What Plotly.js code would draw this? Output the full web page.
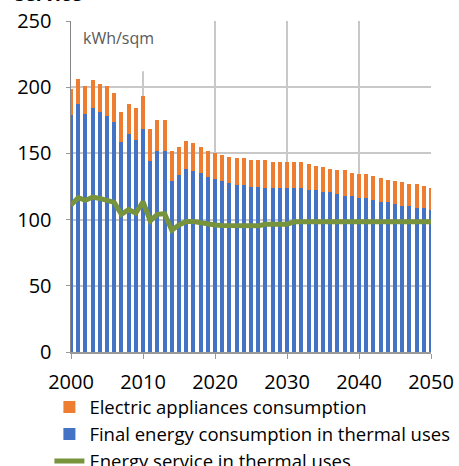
<!DOCTYPE html>
<html>
<head>
<meta charset="utf-8">
<script src="https://cdn.plot.ly/plotly-3.0.1.min.js"></script>
<style>html,body{margin:0;padding:0;background:#fff;}#chart{width:459px;height:466px;}</style>
</head>
<body>
<div id="chart"></div>
<script>
const years = [];
for (let y = 2000; y <= 2050; y++) years.push(y);

const thermalFinal = [179,187,179.5,184,181,178,173.5,158.5,164.5,160,
  168.5,144.5,152,152,129.5,133.5,138,136.5,135,132,
  131,129.5,128,126.5,126.5,125,125,123.5,123.5,123.5,
  123.5,123.5,123.5,122,122,120.5,120.5,119,117.5,117.5,
  116,116,114.5,113,113,111.5,110,110,108.5,108.5,107];

const appliances = [20,19.5,21.5,21.5,21.5,23,22.5,22.5,23,24,
  25,24,23,23,22.5,21.5,21.5,21.5,20,20,
  19.5,19.5,19.5,20,20,20,20,21.5,20,20,
  20,20,20,20,18.5,19.5,18,18.5,20,18,
  18.5,18.5,18.5,18.5,17,18,18.5,17,18.5,17,17];

const energyService = [111,116.5,114.5,117,116,114.5,113,104,107.5,105,
  113.5,99,104,104.5,92,96,98.5,98.5,97.5,96.5,
  96,95.5,95.3,95.3,95.3,95.3,95.3,96.5,96.5,96.5,
  96.5,98.3,98.3,98.3,98.3,98.3,98.3,98.3,98.3,98.3,
  98.3,98.3,98.3,98.3,98.3,98.3,98.3,98.3,98.3,98.3,98.3];

const names = ['Final energy consumption in thermal uses','Electric appliances consumption','Energy service in thermal uses'];
const FONT = 'Open Sans, DejaVu Sans, sans-serif';

const traces = [
  {type:'bar', x:years, y:thermalFinal, name:names[0], marker:{color:'#4472C4'}, width:0.55, legendrank:2},
  {type:'bar', x:years, y:appliances, name:names[1], marker:{color:'#ED7D31'}, width:0.55, legendrank:1},
  {type:'scatter', mode:'lines', x:years, y:energyService, name:names[2], line:{color:'#77933C', width:5}, legendrank:3}
];

const layout = {
  width:459, height:466,
  margin:{l:71, r:28, t:21, b:114, autoexpand:false},
  paper_bgcolor:'#fff', plot_bgcolor:'#fff',
  barmode:'stack',
  showlegend:true,
  font:{family:FONT, color:'#000', size:18.5},
  xaxis:{range:[2000,2050], tickvals:[2000,2010,2020,2030,2040,2050], ticks:'outside', ticklen:5, tickcolor:'#999',
    showgrid:true, gridcolor:'#c8c8c8', gridwidth:2, showline:true, linecolor:'#999', linewidth:1.5,
    tickfont:{size:20, family:FONT, color:'#000'}, ticklabelstandoff:6, zeroline:false, fixedrange:true, automargin:false},
  yaxis:{range:[0,250], tickvals:[0,50,100,150,200,250], ticks:'outside', ticklen:4, tickcolor:'#999',
    showgrid:true, gridcolor:'#c8c8c8', gridwidth:2, showline:true, linecolor:'#888', linewidth:1.5,
    tickfont:{size:20, family:FONT, color:'#000'}, ticklabelstandoff:10, zeroline:false, fixedrange:true, automargin:false},
  legend:{orientation:'v', x:-0.06, xanchor:'left', y:-0.11, yanchor:'top', traceorder:'normal',
    font:{size:18.5, family:FONT, color:'#000'}, itemwidth:30, tracegroupgap:0, bgcolor:'rgba(0,0,0,0)'},
  shapes:[
    {type:'rect', xref:'paper', yref:'paper', x0:0.004, x1:0.247, y0:0.848, y1:1.01, fillcolor:'#fff', line:{width:0}, layer:'above'}
  ],
  annotations:[
    {text:'kWh/sqm', xref:'paper', yref:'paper', x:0.028, y:0.95, xanchor:'left', yanchor:'middle', showarrow:false,
      font:{size:16, family:FONT, color:'#595959'}},
    {text:'<b>service</b>', xref:'paper', yref:'paper', x:-0.161, y:1, xanchor:'left', yanchor:'bottom', yshift:12, showarrow:false,
      font:{size:19, family:FONT, color:'#000'}}
  ]
};

Plotly.newPlot('chart', traces, layout, {displayModeBar:false, staticPlot:true});
</script>
</body>
</html>
